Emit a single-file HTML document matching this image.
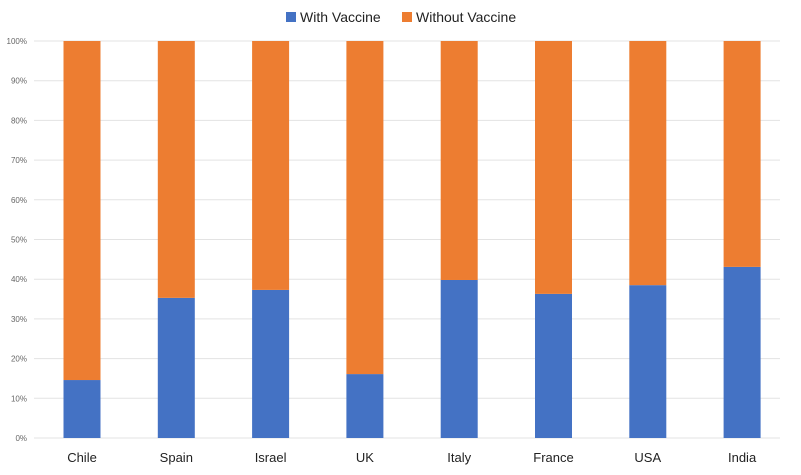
<!DOCTYPE html>
<html><head><meta charset="utf-8"><style>
body{margin:0;background:#fff;font-family:"Liberation Sans",sans-serif}
</style></head><body>
<svg id="c" width="801" height="470"></svg>
<script>
const categories=["Chile","Spain","Israel","UK","Italy","France","USA","India"];
const withVaccine=[14.6,35.3,37.3,16.1,39.8,36.3,38.5,43.1];
const withoutVaccine=withVaccine.map(v=>100-v);
const yTicks=[0,10,20,30,40,50,60,70,80,90,100];
const NS="http://www.w3.org/2000/svg";
const svg=document.getElementById('c');
const x0=34,x1=780,yb=438,yt=41;
const y=v=>yb-(yb-yt)*v/100;
const step=94.3;
const xc=i=>82+step*i;
const bw=37;
function mk(t,a){const e=document.createElementNS(NS,t);for(const k in a)e.setAttribute(k,a[k]);svg.appendChild(e);return e;}
yTicks.forEach(t=>{
 const l=mk('line',{x1:x0,x2:x1,y1:y(t),y2:y(t),stroke:'#e3e3e3','stroke-width':1});
 
 
 const tx=mk('text',{x:27,y:y(t)+3,'text-anchor':'end','font-size':8,fill:'#666'});
 tx.textContent=t+'%';
 
 
});
categories.forEach((c,i)=>{
 const b=mk('rect',{x:xc(i)-bw/2,y:y(withVaccine[i]),width:bw,height:yb-y(withVaccine[i]),fill:'#4472c4'});
 
 
 const o=mk('rect',{x:xc(i)-bw/2,y:y(100),width:bw,height:y(withVaccine[i])-y(100),fill:'#ed7d31'});
 
 
 const t=mk('text',{x:xc(i),y:462,'text-anchor':'middle','font-size':13,fill:'#222'});
 t.textContent=c;
 
 
});
const l1=mk('rect',{x:286,y:12,width:10,height:10,fill:'#4472c4'});


const t1=mk('text',{x:300,y:22,'font-size':14,fill:'#222'});t1.textContent='With Vaccine';


const l2=mk('rect',{x:402,y:12,width:10,height:10,fill:'#ed7d31'});


const t2=mk('text',{x:416,y:22,'font-size':14,fill:'#222'});t2.textContent='Without Vaccine';


</script>
</body></html>
